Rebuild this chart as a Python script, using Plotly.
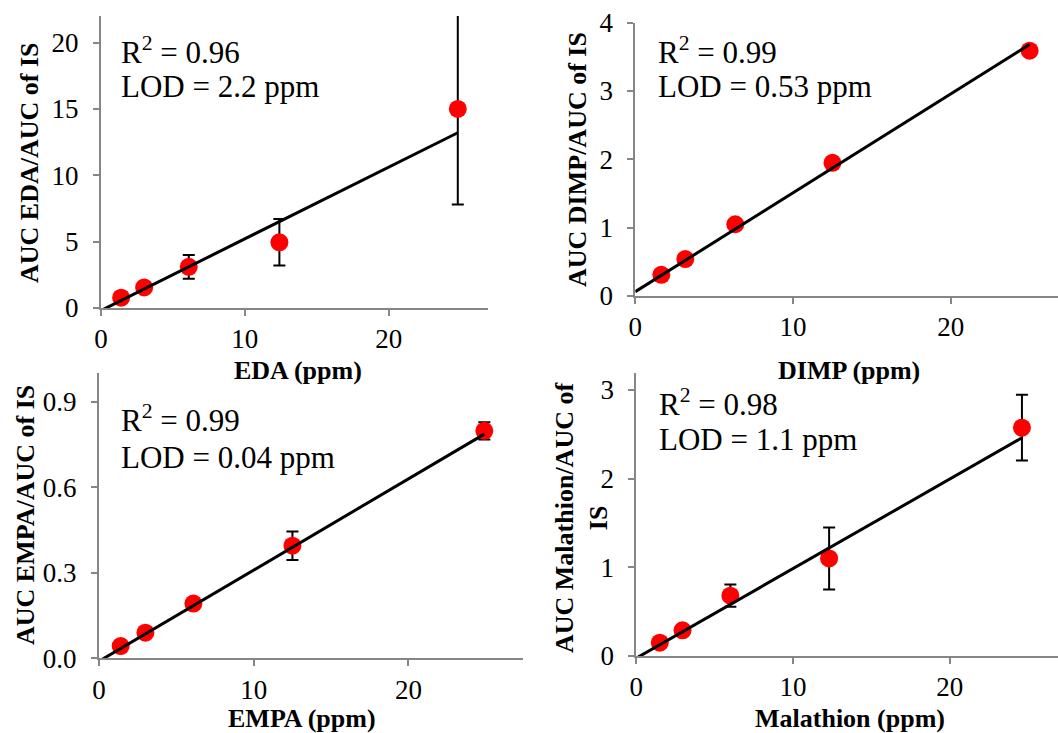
import plotly.graph_objects as go

# ---------------- data ----------------
eda_x = [1.4, 3.0, 6.1, 12.4, 24.8]
eda_y = [0.78, 1.55, 3.1, 4.95, 15.0]
eda_err = [0.4, 0.0, 0.9, 1.75, 7.2]
eda_slope, eda_intercept = 0.54, -0.19

dimp_x = [1.65, 3.17, 6.34, 12.5, 25.0]
dimp_y = [0.31, 0.54, 1.05, 1.95, 3.59]
dimp_err = [0.0, 0.0, 0.0, 0.0, 0.06]
dimp_slope, dimp_intercept = 0.1447, 0.063

empa_x = [1.4, 3.0, 6.1, 12.5, 24.9]
empa_y = [0.043, 0.09, 0.192, 0.395, 0.798]
empa_err = [0.0, 0.0, 0.0, 0.05, 0.03]
empa_slope, empa_intercept = 0.032, -0.0103

mal_x = [1.5, 2.95, 6.0, 12.3, 24.6]
mal_y = [0.15, 0.29, 0.68, 1.1, 2.575]
mal_err = [0.0, 0.0, 0.125, 0.35, 0.37]
mal_slope, mal_intercept = 0.101, -0.024

x_titles = ["EDA (ppm)", "DIMP (ppm)", "EMPA (ppm)", "Malathion (ppm)"]
y_titles = ["AUC EDA/AUC of IS", "AUC DIMP/AUC of IS", "AUC EMPA/AUC of IS",
            "AUC Malathion/AUC of<br>IS"]
r2_labels = ["0.96", "0.99", "0.99", "0.98"]
lod_labels = ["2.2 ppm", "0.53 ppm", "0.04 ppm", "1.1 ppm"]

x_ticks = [0, 10, 20]
y_ticks = [[0, 5, 10, 15, 20], [0, 1, 2, 3, 4], [0, 0.3, 0.6, 0.9], [0, 1, 2, 3]]

# ---------------- layout geometry ----------------
W, H = 1058, 733
SERIF = "Liberation Serif, Times New Roman, DejaVu Serif, serif"
AXC = "#868686"

def fx(px):
    return px / W

def fy(py):
    return 1 - py / H

panels = [
    dict(x=eda_x, y=eda_y, e=eda_err, m=eda_slope, b=eda_intercept,
         xd=(101, 488), yd=(16, 308), xr=26.9, yr=22, yfmt=None),
    dict(x=dimp_x, y=dimp_y, e=dimp_err, m=dimp_slope, b=dimp_intercept,
         xd=(635.3, 1058), yd=(22.7, 296), xr=26.8, yr=4, yfmt=None),
    dict(x=empa_x, y=empa_y, e=empa_err, m=empa_slope, b=empa_intercept,
         xd=(99, 523), yd=(373.3, 658.3), xr=27.4, yr=1.0, yfmt=".1f"),
    dict(x=mal_x, y=mal_y, e=mal_err, m=mal_slope, b=mal_intercept,
         xd=(636.3, 1058), yd=(372.7, 656), xr=26.9, yr=3.195, yfmt=None),
]

fig = go.Figure()
layout = dict(width=W, height=H, margin=dict(l=0, r=0, t=0, b=0, autoexpand=False),
              template="none", font=dict(family=SERIF, color="black"),
              paper_bgcolor="white", plot_bgcolor="white", showlegend=False)

for i, p in enumerate(panels):
    n = i + 1
    xa = "x" if n == 1 else f"x{n}"
    ya = "y" if n == 1 else f"y{n}"
    fig.add_trace(go.Scatter(
        x=p["x"], y=p["y"], mode="markers", xaxis=xa, yaxis=ya,
        marker=dict(color="#FF0000", size=18, line=dict(width=0)),
        error_y=dict(type="data", array=p["e"], visible=True,
                     color="black", thickness=2, width=6),
        cliponaxis=False))
    tx = [0, p["x"][-1]]
    ty = [p["m"] * v + p["b"] for v in tx]
    fig.add_trace(go.Scatter(
        x=tx, y=ty, mode="lines", xaxis=xa, yaxis=ya,
        line=dict(color="black", width=3)))

    axcommon = dict(showline=True, linecolor=AXC, linewidth=2, ticks="outside",
                    tickcolor=AXC, tickwidth=2, ticklen=6, showgrid=False,
                    zeroline=False, automargin=False,
                    tickfont=dict(family=SERIF, size=27, color="black"))
    layout["xaxis" if n == 1 else f"xaxis{n}"] = dict(
        domain=[fx(p["xd"][0]), fx(p["xd"][1])], range=[0, p["xr"]],
        anchor=ya, tickvals=x_ticks, **axcommon)
    yax = dict(domain=[fy(p["yd"][1]), fy(p["yd"][0])], range=[0, p["yr"]],
               anchor=xa, tickvals=y_ticks[i], ticklabelstandoff=9, **axcommon)
    if p["yfmt"]:
        yax["tickformat"] = p["yfmt"]
    layout["yaxis" if n == 1 else f"yaxis{n}"] = yax

annotations = []
# R^2 / LOD text
txt_pos = [(119, 50, 87), (656.3, 50, 87), (119, 418, 457), (657.3, 402, 439)]
for i, (px, py1, py2) in enumerate(txt_pos):
    annotations.append(dict(x=fx(px), y=fy(py1), xref="paper", yref="paper",
                            xanchor="left", yanchor="middle", showarrow=False,
                            text=f"R<sup>2</sup> = {r2_labels[i]}",
                            font=dict(family=SERIF, size=31, color="black")))
    annotations.append(dict(x=fx(px), y=fy(py2), xref="paper", yref="paper",
                            xanchor="left", yanchor="middle", showarrow=False,
                            text=f"LOD = {lod_labels[i]}",
                            font=dict(family=SERIF, size=31, color="black")))
# axis titles
xt_pos = [(298, 370), (849, 370), (302, 718), (850, 718)]
for i, (px, py) in enumerate(xt_pos):
    annotations.append(dict(x=fx(px), y=fy(py), xref="paper", yref="paper",
                            xanchor="center", yanchor="middle", showarrow=False,
                            text=f"<b>{x_titles[i]}</b>",
                            font=dict(family=SERIF, size=26, color="black")))
yt_pos = [(30, 163), (578, 160), (25, 515), (581, 518)]
for i, (px, py) in enumerate(yt_pos):
    annotations.append(dict(x=fx(px), y=fy(py), xref="paper", yref="paper",
                            xanchor="center", yanchor="middle", showarrow=False,
                            textangle=-90, text=f"<b>{y_titles[i]}</b>",
                            font=dict(family=SERIF, size=26, color="black")))
layout["annotations"] = annotations
fig.update_layout(**layout)
fig.write_html(
    "out.html",
    config={"displayModeBar": False},
    post_script="document.body.style.margin='0';document.body.style.padding='0';"
                "document.body.style.overflow='hidden';",
)
